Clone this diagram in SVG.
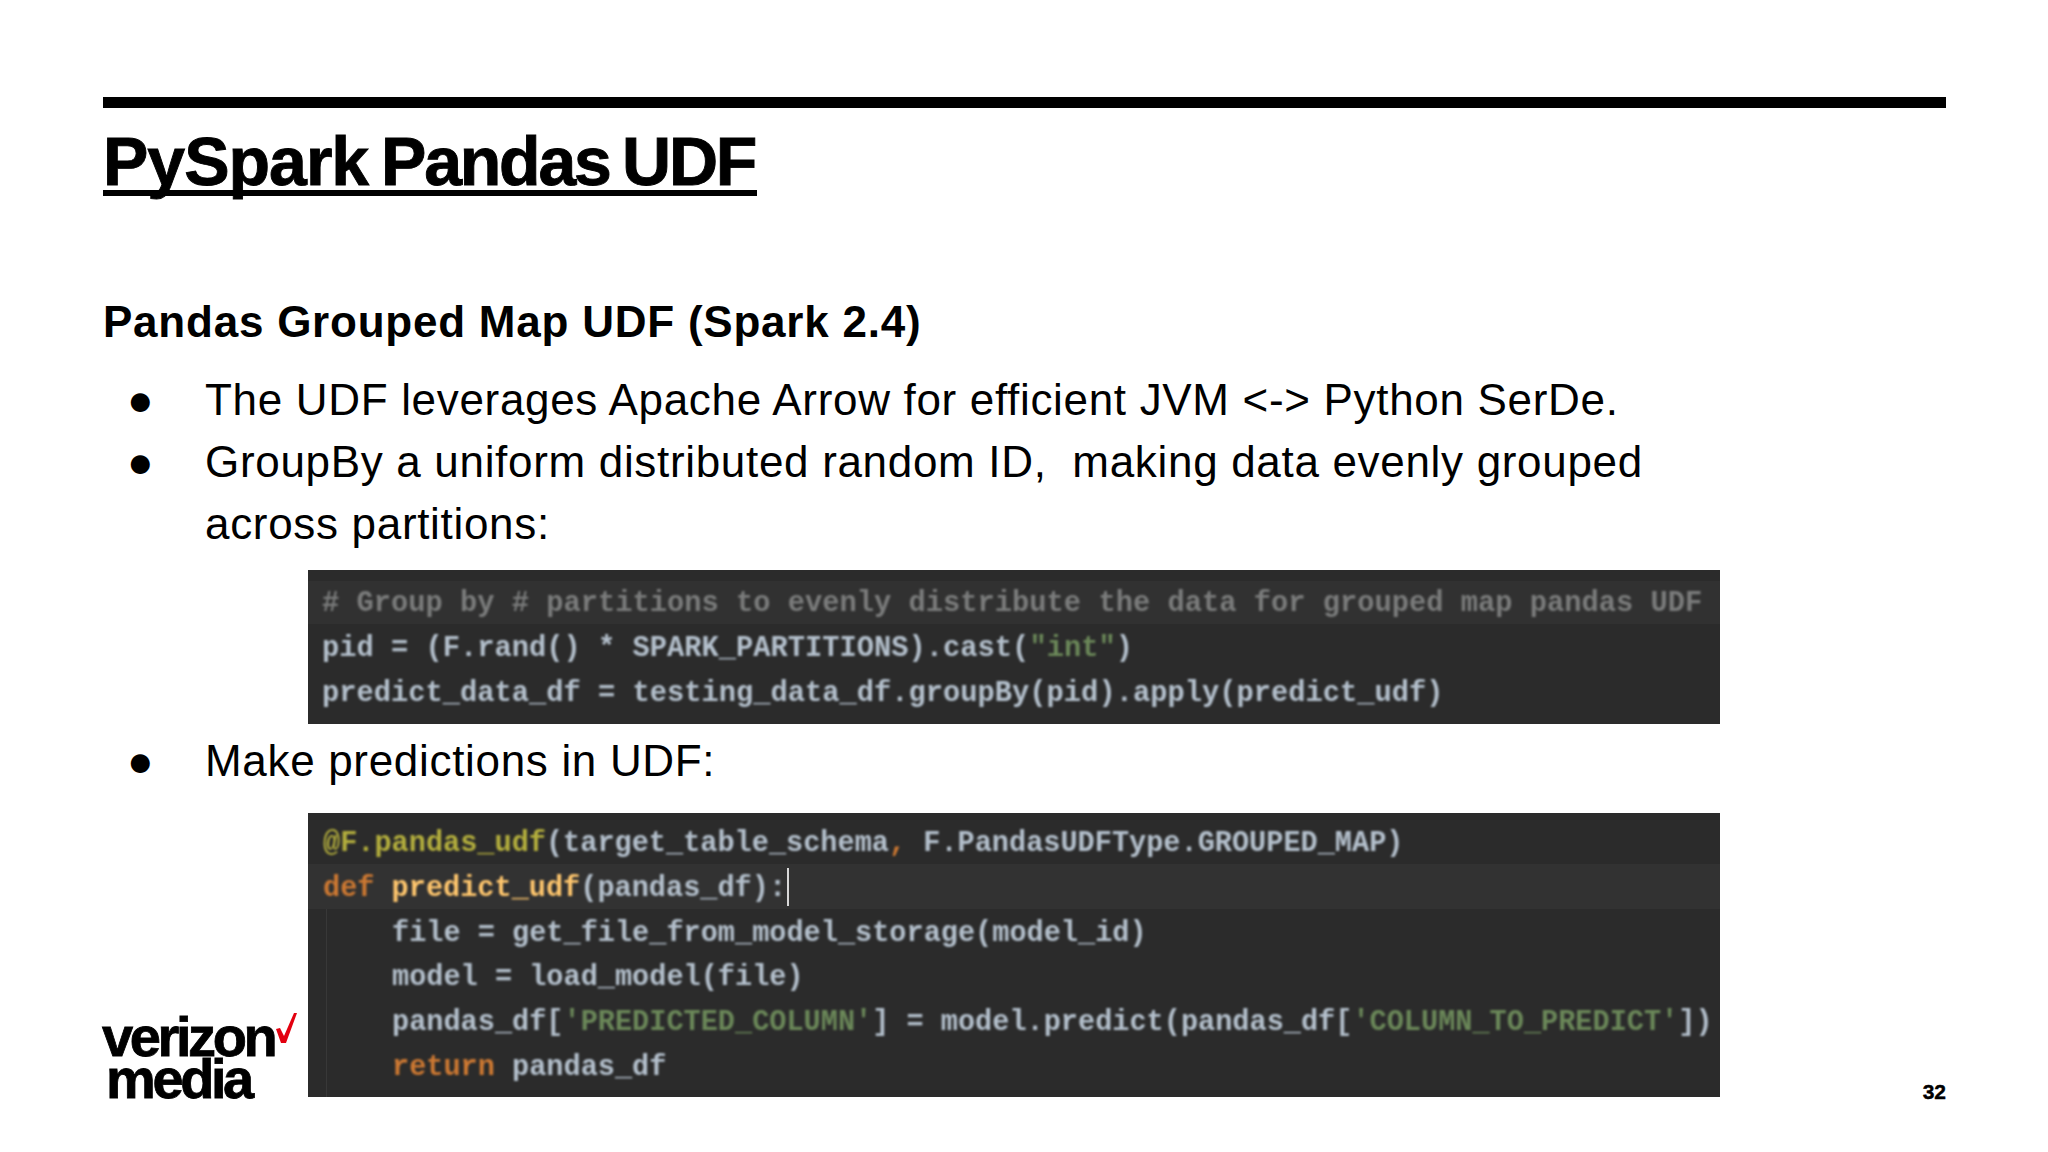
<svg xmlns="http://www.w3.org/2000/svg" width="2048" height="1152" viewBox="0 0 2048 1152">
<defs>
<filter id="soft" x="-2%" y="-5%" width="104%" height="110%"><feGaussianBlur stdDeviation="0.8"/></filter>
</defs>
<style>
.s{font-family:"Liberation Sans",Arial,sans-serif;fill:#000;white-space:pre}
.b{font-size:44px;letter-spacing:.68px}
.h{font-size:44px;font-weight:700;letter-spacing:.77px}
.l{font-size:56px;font-weight:700;letter-spacing:-3.4px;stroke:#000;stroke-width:.8px}
.c{font-family:"Liberation Mono","DejaVu Sans Mono",monospace;font-size:28.75px;fill:#b4c0cc;font-weight:700;white-space:pre}
.d{font-size:28.58px}
.g{fill:#7a7c7b}.o{fill:#cc7832}.y{fill:#ffc66d}.a{fill:#b3ae3c}.t{fill:#6a8759}
</style>
<rect width="2048" height="1152" fill="#fff"/>
<g id="header">
<rect x="103" y="97" width="1843" height="11" fill="#000"/>
<text class="s" y="185" font-size="68" font-weight="700" letter-spacing="-2.2" stroke="#000" stroke-width=".9" style="font-kerning:none"><tspan x="103" letter-spacing="-1">PySpark</tspan><tspan x="381"> </tspan><tspan x="381">Pandas</tspan><tspan x="622"> </tspan><tspan x="622">UDF</tspan></text>
<rect x="103" y="190" width="654" height="6" fill="#000"/>
</g>
<g id="body-text">
<text class="s h" x="103" y="337">Pandas Grouped Map UDF (Spark 2.4)</text>
<text class="s b" x="127" y="415">●</text>
<text class="s b" x="205" y="415">The UDF leverages Apache Arrow for efficient JVM &lt;-&gt; Python SerDe.</text>
<text class="s b" x="127" y="477">●</text>
<text class="s b" x="205" y="477" xml:space="preserve">GroupBy a uniform distributed random ID,  making data evenly grouped</text>
<text class="s b" x="205" y="539">across partitions:</text>
<text class="s b" x="127" y="776">●</text>
<text class="s b" x="205" y="776">Make predictions in UDF:</text>
</g>
<g id="code-1">
<rect x="308" y="570" width="1412" height="154" fill="#2b2b2b"/>
<rect x="308" y="581" width="1412" height="43" fill="#313131"/>
<g filter="url(#soft)">
<text class="c g" x="322" y="611" xml:space="preserve"># Group by # partitions to evenly distribute the data for grouped map pandas UDF</text>
<text class="c" x="322" y="656" xml:space="preserve">pid = (F.rand() * SPARK_PARTITIONS).cast(<tspan class="t">"int"</tspan>)</text>
<text class="c" x="322" y="701" xml:space="preserve">predict_data_df = testing_data_df.groupBy(pid).apply(predict_udf)</text>
</g>
</g>
<g id="code-2">
<rect x="308" y="813" width="1412" height="284" fill="#2b2b2b"/>
<rect x="308" y="864" width="1412" height="45" fill="#323232"/>
<rect x="326" y="909" width="1" height="188" fill="#383838"/>
<rect x="787" y="868" width="2" height="38" fill="#d8d8d8"/>
<g filter="url(#soft)">
<text class="c d" x="323" y="851" xml:space="preserve"><tspan class="a">@F.pandas_udf</tspan>(target_table_schema<tspan class="o">,</tspan> F.PandasUDFType.GROUPED_MAP)</text>
<text class="c d" x="323" y="896" xml:space="preserve"><tspan class="o">def</tspan> <tspan class="y">predict_udf</tspan>(pandas_df):</text>
<text class="c d" x="392" y="941" xml:space="preserve">file = get_file_from_model_storage(model_id)</text>
<text class="c d" x="392" y="985" xml:space="preserve">model = load_model(file)</text>
<text class="c d" x="392" y="1030" xml:space="preserve">pandas_df[<tspan class="t">'PREDICTED_COLUMN'</tspan>] = model.predict(pandas_df[<tspan class="t">'COLUMN_TO_PREDICT'</tspan>])</text>
<text class="c d" x="392" y="1075" xml:space="preserve"><tspan class="o">return</tspan> pandas_df</text>
</g>
</g>
<g id="logo">
<text class="s l" x="102" y="1056">verizon</text>
<text class="s l" x="106" y="1098">media</text>
<path d="M276 1029 L281 1043 L286 1043 L297 1013 L294 1013 L284 1036 L280 1028 Z" fill="#e3000f"/>
</g>
<g id="page-number">
<text class="s" x="1946" y="1099" font-size="21" font-weight="700" text-anchor="end" stroke="#000" stroke-width=".4">32</text>
</g>
</svg>
